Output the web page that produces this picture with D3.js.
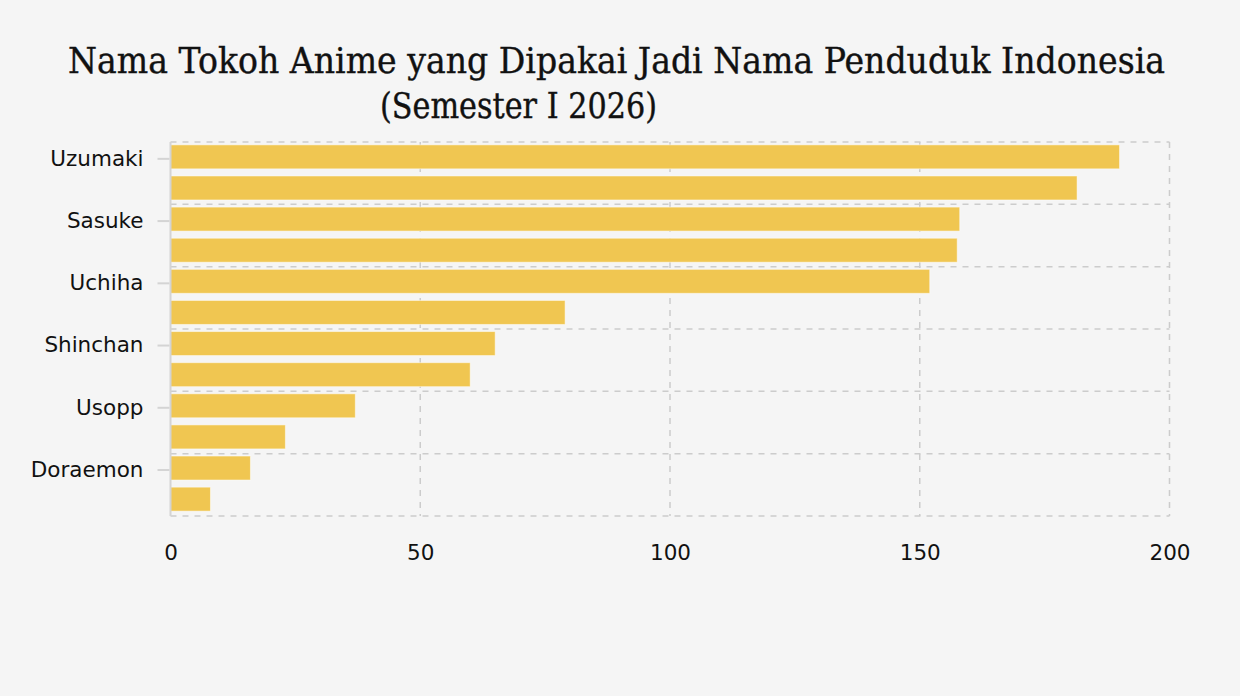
<!DOCTYPE html>
<html>
<head>
<meta charset="utf-8">
<script src="https://cdn.jsdelivr.net/npm/d3@7"></script>
<style>
  html, body { margin: 0; padding: 0; background: #f5f5f5; }
  svg { display: block; }
</style>
</head>
<body>
<svg id="drawing_region"></svg>
<script>
// labels shown on the y axis (every other bar carries a label)
const labels = ["Uzumaki", "Sasuke", "Uchiha", "Shinchan", "Usopp", "Doraemon"];
// one value per bar, top to bottom
const values = [190, 181.5, 158, 157.5, 152, 79, 65, 60, 37, 23, 16, 8];
const xticks = [0, 50, 100, 150, 200];
const titleLines = ["Nama Tokoh Anime yang Dipakai Jadi Nama Penduduk Indonesia", "(Semester I 2026)"];

const config = {
    width: 1240,
    height: 696,
    left: 170.5, right: 1169.5, top: 142, bottom: 516
};

const svg = d3.select('#drawing_region')
    .attr('width', config.width)
    .attr('height', config.height);

svg.append('rect')
    .attr('width', config.width)
    .attr('height', config.height)
    .attr('fill', '#f5f5f5');

// title
const titleSpec = [
    { x: 68, y: 73, w: 1097 },
    { x: 380, y: 118, w: 277 }
];
titleLines.forEach((t, i) => {
    const s = titleSpec[i];
    const txt = svg.append('text')
        .attr('x', s.x)
        .attr('y', s.y)
        .attr('font-family', '"DejaVu Serif", serif')
        .attr('font-size', 35)
        .attr('fill', '#111')
        .attr('stroke', '#111')
        .attr('stroke-width', 0.4)
        .text(t);
    const len = txt.node().getComputedTextLength();
    if (Math.abs(len - s.w) > 2) {
        txt.attr('textLength', s.w).attr('lengthAdjust', 'spacingAndGlyphs');
    }
});

const idx = d3.range(values.length);

const xscale = d3.scaleLinear()
    .domain([0, 200])
    .range([config.left, config.right]);

const yscale = d3.scaleBand()
    .domain(idx)
    .range([config.top - 1, config.bottom - 1])
    .paddingInner(0.229)
    .paddingOuter(0.124);

// horizontal grid, one line per labelled pair
const gridY = d3.scaleLinear()
    .domain([0, labels.length])
    .range([config.top, config.bottom]);

const grid = svg.append('g')
    .attr('stroke', '#cccccc')
    .attr('stroke-width', 1.5)
    .attr('stroke-dasharray', '6,6')
    .attr('fill', 'none');

grid.selectAll('line.h')
    .data(d3.range(labels.length + 1))
    .join('line')
    .attr('class', 'h')
    .attr('x1', config.left)
    .attr('x2', config.right)
    .attr('y1', d => gridY(d))
    .attr('y2', d => gridY(d));

grid.selectAll('line.v')
    .data(xticks.slice(1))
    .join('line')
    .attr('class', 'v')
    .attr('x1', d => xscale(d))
    .attr('x2', d => xscale(d))
    .attr('y1', config.top)
    .attr('y2', config.bottom);

// bars
svg.append('g')
    .selectAll('rect')
    .data(idx)
    .join('rect')
    .attr('x', xscale(0))
    .attr('y', i => yscale(i))
    .attr('width', i => xscale(values[i]) - xscale(0))
    .attr('height', yscale.bandwidth())
    .attr('fill', '#f0c651')
    .attr('stroke', 'rgba(255,255,255,0.5)')
    .attr('stroke-width', 1);

// y axis
const yaxis = d3.axisLeft(yscale)
    .tickValues(idx.filter(i => i % 2 === 0))
    .tickFormat(i => labels[i / 2])
    .tickSize(12)
    .tickPadding(14);

const yaxis_group = svg.append('g')
    .attr('transform', `translate(${config.left - 1}, 0)`)
    .call(yaxis);

yaxis_group.select('.domain').remove();
yaxis_group.selectAll('.tick line')
    .attr('stroke', '#d4d4d4')
    .attr('stroke-width', 2)
    .attr('transform', 'translate(0,2)');
yaxis_group.selectAll('.tick text')
    .attr('font-family', '"DejaVu Sans", Verdana, sans-serif')
    .attr('font-size', 21.5)
    .attr('fill', '#111')
    .attr('dy', '0.32em')
    .attr('transform', 'translate(0,2)');

svg.append('line')
    .attr('x1', config.left)
    .attr('x2', config.left)
    .attr('y1', config.top)
    .attr('y2', config.bottom)
    .attr('stroke', '#d4d4d4')
    .attr('stroke-width', 2);

// x axis
const xaxis = d3.axisBottom(xscale)
    .tickValues(xticks)
    .tickSize(0)
    .tickPadding(29);

const xaxis_group = svg.append('g')
    .attr('transform', `translate(0, ${config.bottom})`)
    .call(xaxis);

xaxis_group.select('.domain').remove();
xaxis_group.selectAll('.tick text')
    .attr('font-family', '"DejaVu Sans", Verdana, sans-serif')
    .attr('font-size', 21.5)
    .attr('fill', '#111');
</script>
</body>
</html>
